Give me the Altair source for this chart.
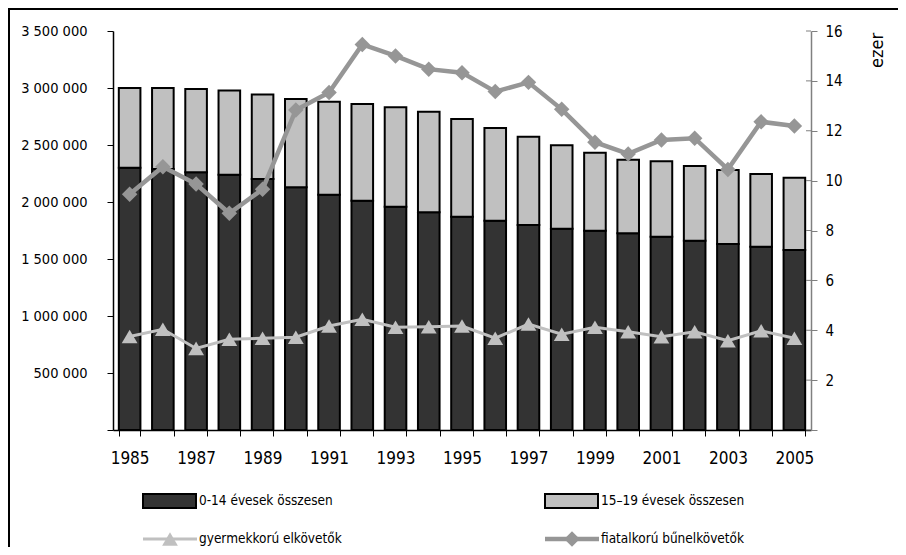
import altair as alt
import pandas as pd

years = list(range(1985, 2006))
age_0_14 = [2300000, 2290000, 2260000, 2240000, 2202000, 2129000, 2064000, 2011000, 1959000, 1909000,
            1871000, 1836000, 1798000, 1766000, 1748000, 1725000, 1696000, 1661000, 1632000, 1608000, 1579000]
age_15_19 = [700000, 710000, 731000, 737000, 740000, 775000, 816000, 849000, 872000, 883000,
             857000, 813000, 775000, 731000, 684000, 646000, 661000, 655000, 649000, 638000, 634000]
gyermek = [3.75, 4.04, 3.27, 3.64, 3.68, 3.72, 4.17, 4.44, 4.12, 4.14,
           4.17, 3.68, 4.25, 3.84, 4.12, 3.94, 3.74, 3.94, 3.58, 3.98, 3.68]
fiatal = [9.45, 10.56, 9.86, 8.69, 9.65, 12.83, 13.53, 15.46, 15.0, 14.47,
          14.33, 13.57, 13.94, 12.86, 11.54, 11.07, 11.63, 11.70, 10.45, 12.36, 12.19]

series_names = ["0-14 évesek összesen", "15–19 évesek összesen"]
line_names = ["gyermekkorú elkövetők", "fiatalkorú bűnelkövetők"]
left_ticks = [0, 500000, 1000000, 1500000, 2000000, 2500000, 3000000, 3500000]
right_ticks = [0, 2, 4, 6, 8, 10, 12, 14, 16]

FONT = "Liberation Sans Narrow, Arial Narrow, DejaVu Sans Condensed, Liberation Sans, sans-serif"
DARK = "#333333"
LIGHT = "#c0c0c0"
MID = "#969696"
AXGRAY = "#808080"

rows = []
for i, y in enumerate(years):
    rows.append({"ev": str(y), "csoport": series_names[0], "ertek": age_0_14[i], "rend": 0})
    rows.append({"ev": str(y), "csoport": series_names[1], "ertek": age_15_19[i], "rend": 1})
bars_df = pd.DataFrame(rows)
lines_df = pd.DataFrame({"ev": [str(y) for y in years], "gyermek": gyermek, "fiatal": fiatal})
ticks_df = pd.DataFrame({"t": right_ticks})

x_axis = alt.Axis(title=None, labelAngle=0, tickBand="extent", tickSize=6, tickColor="black",
                  domainColor="black", domainWidth=1.5, labelFont=FONT, labelFontSize=17,
                  labelColor="black", labelPadding=14,
                  labelExpr="toNumber(datum.value) % 2 == 1 ? datum.label : ''")
x_enc = alt.X("ev:N", scale=alt.Scale(paddingInner=0.35, paddingOuter=0.175), axis=x_axis)

bars = alt.Chart(bars_df).mark_bar(stroke="black", strokeWidth=2).encode(
    x=x_enc,
    y=alt.Y("ertek:Q", stack="zero",
            scale=alt.Scale(domain=[0, 3500000], nice=False),
            axis=alt.Axis(title=None, values=left_ticks, grid=False, tickSize=6, tickColor="black",
                          domainColor="black", domainWidth=1.5, labelFont=FONT, labelFontSize=14.5,
                          labelColor="black", labelPadding=20,
                          labelExpr="datum.value == 0 ? '' : replace(replace(format(datum.value, ','), ',', ' '), ',', ' ')")),
    fill=alt.Fill("csoport:N", scale=alt.Scale(domain=series_names, range=[DARK, LIGHT]), legend=None),
    order=alt.Order("rend:Q"),
)

right_axis = alt.Axis(title="ezer", orient="right", values=right_ticks, grid=False, tickSize=6,
                      tickColor=AXGRAY, domainColor=AXGRAY, domainWidth=1.5,
                      labelFont=FONT, labelFontSize=15, labelColor="black", labelPadding=8,
                      labelExpr="datum.value == 0 ? '' : datum.label",
                      titleFont=FONT, titleFontSize=18, titleFontWeight="normal", titleColor="black",
                      titleAngle=270, titleAlign="center", titleBaseline="middle",
                      titleX=66, titleY=19)
y_right = dict(scale=alt.Scale(domain=[0, 16], nice=False), axis=right_axis)

lbase = alt.Chart(lines_df)
line_g = lbase.mark_line(color=LIGHT, strokeWidth=3).encode(x=x_enc, y=alt.Y("gyermek:Q", **y_right))
pts_g = lbase.mark_point(shape="triangle-up", filled=True, color=LIGHT, size=250, opacity=1).encode(
    x=x_enc, y=alt.Y("gyermek:Q", **y_right))
line_f = lbase.mark_line(color=MID, strokeWidth=4.5).encode(x=x_enc, y=alt.Y("fiatal:Q", **y_right))
pts_f = lbase.mark_point(shape="diamond", filled=True, color=MID, size=240, opacity=1).encode(
    x=x_enc, y=alt.Y("fiatal:Q", **y_right))
inner_ticks = alt.Chart(ticks_df).mark_rule(color=AXGRAY, strokeWidth=1).encode(
    x=alt.value(693), x2=alt.value(698), y=alt.Y("t:Q", **y_right))
lines = alt.layer(line_g, pts_g, line_f, pts_f, inner_ticks)

dummy = pd.DataFrame({"a": [0]})
legend_layers = []
ROW1, ROW2 = 470, 508
# bar swatches
for x0, col in [(30, DARK), (432, LIGHT)]:
    legend_layers.append(alt.Chart(dummy).mark_rect(stroke="black", strokeWidth=2, fill=col).encode(
        x=alt.value(x0), x2=alt.value(x0 + 53), y=alt.value(ROW1 - 7), y2=alt.value(ROW1 + 7)))
# line swatches
for x0, col, sw, shape, sz in [(30, LIGHT, 3, "triangle-up", 250), (432, MID, 4.5, "diamond", 240)]:
    legend_layers.append(alt.Chart(dummy).mark_rule(color=col, strokeWidth=sw).encode(
        x=alt.value(x0), x2=alt.value(x0 + 54), y=alt.value(ROW2)))
    legend_layers.append(alt.Chart(dummy).mark_point(shape=shape, filled=True, color=col, size=sz, opacity=1).encode(
        x=alt.value(x0 + 27), y=alt.value(ROW2)))
# texts
for x0, y0, txt in [(86, ROW1, series_names[0]), (488, ROW1, series_names[1]),
                    (86, ROW2, line_names[0]), (488, ROW2, line_names[1])]:
    legend_layers.append(alt.Chart(dummy).mark_text(align="left", baseline="middle", font=FONT,
                                                    fontSize=13.5, color="black").encode(
        x=alt.value(x0), y=alt.value(y0), text=alt.value(txt)))

frame = alt.Chart(dummy).mark_rect(fillOpacity=0, stroke="black", strokeWidth=2).encode(
    x=alt.value(-104), x2=alt.value(900), y=alt.value(-22), y2=alt.value(700))

chart = alt.layer(bars, lines, *legend_layers, frame).resolve_scale(y="independent").properties(
    width=698, height=399,
    autosize=alt.AutoSizeParams(type="none"),
    padding={"left": 105, "top": 23, "right": 87, "bottom": 117},
    background="white",
).configure_view(stroke=None).configure_axis(grid=False)

chart.save("out.html", embed_options={"renderer": "svg", "actions": False})
